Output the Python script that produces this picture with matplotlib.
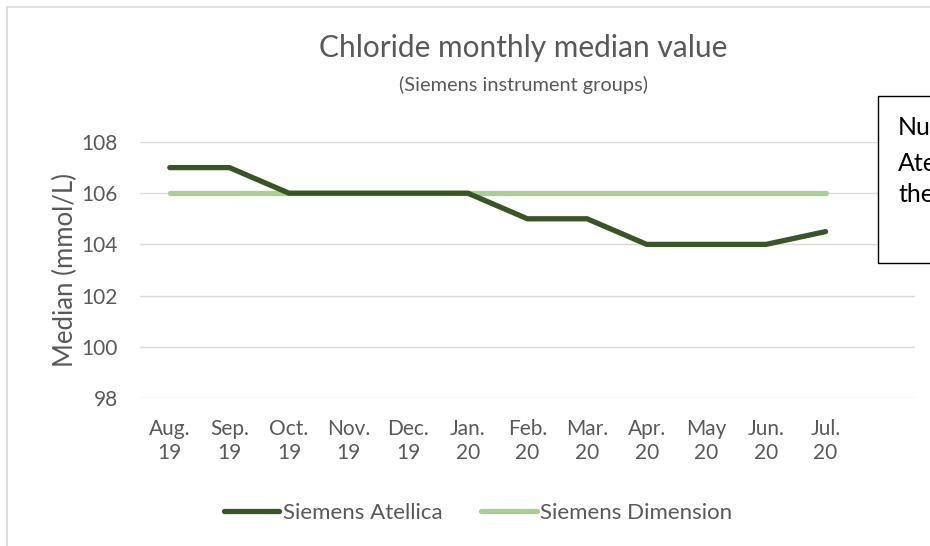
import matplotlib
matplotlib.use("Agg")
import matplotlib.pyplot as plt
from matplotlib.lines import Line2D
from matplotlib.patches import Rectangle

plt.rcParams["font.family"] = ["Lato", "DejaVu Sans"]

months = ["Aug.\n19", "Sep.\n19", "Oct.\n19", "Nov.\n19", "Dec.\n19", "Jan.\n20",
          "Feb.\n20", "Mar.\n20", "Apr.\n20", "May\n20", "Jun.\n20", "Jul.\n20", ""]
atellica = [107, 107, 106, 106, 106, 106, 105, 105, 104, 104, 104, 104.5]
dimension = [106, 106, 106, 106, 106, 106, 106, 106, 106, 106, 106, 106]
y_ticks = [98, 100, 102, 104, 106, 108]

DARK = "#375623"
LIGHT = "#a9d08e"
TXT = "#595959"
GRID = "#d9d9d9"

W, H = 930, 546
fig = plt.figure(figsize=(W / 100, H / 100), dpi=100)
ax = fig.add_axes([140 / W, 1 - 398 / H, 775 / W, 256 / H])

x = list(range(len(atellica)))
ax.plot(x, dimension, color=LIGHT, lw=3.8, solid_capstyle="round",
        solid_joinstyle="round", label="Siemens Dimension", zorder=3)
ax.plot(x, atellica, color=DARK, lw=3.8, solid_capstyle="round",
        solid_joinstyle="round", label="Siemens Atellica", zorder=4)

ax.set_xlim(-0.5, len(months) - 0.5)
ax.set_ylim(98, 108)
ax.set_yticks(y_ticks)
ax.set_xticks(range(len(months)))
ax.set_xticklabels(months, linespacing=1.25)
ax.tick_params(length=0, labelsize=15, colors=TXT)
ax.tick_params(axis="x", pad=15)
ax.tick_params(axis="y", pad=16)
ax.grid(axis="y", color=GRID, lw=1)
ax.set_axisbelow(True)
for s in ax.spines.values():
    s.set_visible(False)
ax.set_ylabel("Median (mmol/L)", fontsize=18.5, color=TXT, va="center")
ax.yaxis.set_label_coords(-75 / 775, 0.5)

# chart frame (cropped on the right and bottom)
fig.add_artist(Line2D([7 / W, 7 / W], [0, 1 - 7 / H], color=GRID, lw=1.2))
fig.add_artist(Line2D([7 / W, 1], [1 - 7 / H, 1 - 7 / H], color=GRID, lw=1.2))

fig.text(523 / W, 1 - 48 / H, "Chloride monthly median value", ha="center",
         va="center", fontsize=21.5, color=TXT)
fig.text(523 / W, 1 - 85 / H, "(Siemens instrument groups)", ha="center",
         va="center", fontsize=14.4, color=TXT)

# note box, cut off by the right edge as in the source chart
fig.add_artist(Rectangle((878 / W, 1 - 263 / H), 80 / W, 167 / H,
                         transform=fig.transFigure, fill=True, fc="white",
                         ec="black", lw=1, zorder=5))
for txt, base in [("Nu", 135), ("Ate", 171), ("the", 202)]:
    fig.text(898 / W, 1 - base / H, txt, ha="left", va="baseline",
             fontsize=18, color="black", zorder=6)

handles = [Line2D([], [], color=DARK, lw=3.8, solid_capstyle="round"),
           Line2D([], [], color=LIGHT, lw=3.8, solid_capstyle="round")]
fig.legend(handles, ["Siemens Atellica", "Siemens Dimension"], loc="center",
           bbox_to_anchor=(478 / W, 1 - 513 / H), ncol=2, frameon=False,
           fontsize=16, labelcolor=TXT, handlelength=2.5, handletextpad=0.15,
           columnspacing=1.75)

fig.savefig("out.png", dpi=100)
